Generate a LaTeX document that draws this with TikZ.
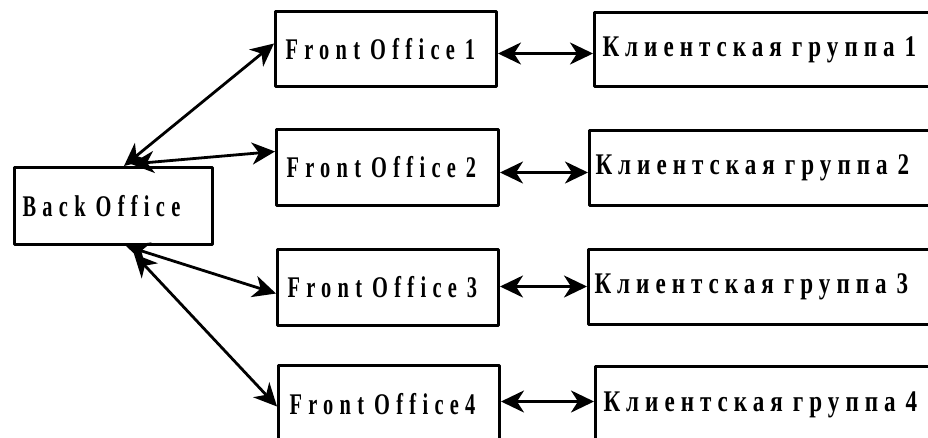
\documentclass[tikz,border=0pt]{standalone}
\usepackage{fontspec}
\newfontfamily\lbl{Liberation Serif Bold}[FakeStretch=0.68,LetterSpace=21,WordSpace=1.6]
\newfontfamily\lblc{Liberation Serif Bold}[FakeStretch=0.77,LetterSpace=20,WordSpace=1.6]
\usetikzlibrary{arrows.meta}
\tikzset{
  box/.style={draw, line width=3pt, line join=round, rectangle, anchor=north west,
    inner xsep=8pt, inner ysep=0pt, align=left,
    font=\lbl\fontsize{30}{30}\selectfont},
  cbox/.style={box, font=\lblc\fontsize{30}{30}\selectfont},
  link/.style={line width=2.8pt, {Stealth[length=23pt,width=22pt,inset=7pt]}-{Stealth[length=23pt,width=22pt,inset=7pt]}}
}
\begin{document}
\begin{tikzpicture}[x=1pt,y=-1pt]
\useasboundingbox (0,0) rectangle (928,437);
\node[box, text width=182pt, minimum height=77pt] (bo) at (13,166) {Back Office};
\node[box, minimum height=75pt, inner xsep=10pt, text width=201pt] (fo1) at (274,10) {Front Office 1};
\node[box, minimum height=76pt, inner xsep=10pt, text width=202pt] (fo2) at (275,128) {Front Office 2};
\node[box, minimum height=76pt, inner xsep=10pt, text width=201pt] (fo3) at (276,248) {Front Office 3};
\node[box, minimum height=77pt, inner xsep=11pt, text width=199pt] (fo4) at (277,364) {Front Office4};
\node[cbox, text width=331pt, minimum height=74pt] (c1) at (593,11) {Клиентская группа 1};
\node[cbox, text width=336pt, minimum height=75pt, inner xsep=6pt] (c2) at (588,129) {Клиентская группа 2};
\node[cbox, text width=337pt, minimum height=75pt, inner xsep=6pt] (c3) at (587,248) {Клиентская группа 3};
\node[cbox, text width=330pt, minimum height=77pt] (c4) at (594,365) {Клиентская группа 4};
% back office links
\draw[link] ([xshift=111pt]bo.north west) -- ([yshift=5.5pt]fo1.west);
\draw[link] ([xshift=118pt,yshift=2pt]bo.north west) -- ([yshift=16pt]fo2.west);
\draw[link] ([xshift=113pt]bo.south west) -- ([yshift=-6pt]fo3.west);
\draw[link] ([xshift=121pt,yshift=-8pt]bo.south west) -- ([yshift=-2.5pt]fo4.west);
% front office to client group links
\draw[link] ([yshift=-4.5pt]fo1.east) -- ([yshift=-4.5pt]fo1.east -| c1.west);
\draw[link] ([yshift=-5pt]fo2.east) -- ([yshift=-5pt]fo2.east -| c2.west);
\draw[link] ([yshift=1pt]fo3.east) -- ([yshift=1pt]fo3.east -| c3.west);
\draw[link] ([yshift=2.5pt]fo4.east) -- ([yshift=2.5pt]fo4.east -| c4.west);
\end{tikzpicture}
\end{document}
